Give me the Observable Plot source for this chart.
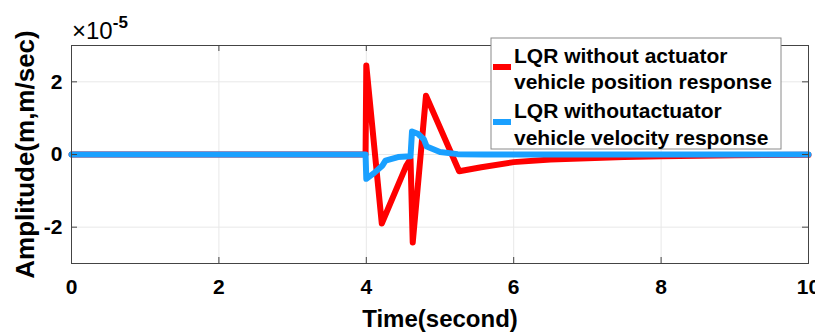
<!DOCTYPE html>
<html>
<head>
<meta charset="utf-8">
<script src="https://cdn.jsdelivr.net/npm/d3@7"></script>
<script src="https://cdn.jsdelivr.net/npm/@observablehq/plot@0.6"></script>
<style>
  body { margin: 0; background: #fff; }
</style>
</head>
<body>
<div id="chart"></div>
<script>
// Vehicle position response (units of 1e-5 m)
const posTime  = [0, 3.99, 4.0, 4.21, 4.54, 4.6, 4.63, 4.81, 5.26, 5.56, 6.0, 6.5, 7.0, 7.5, 8.0, 9.0, 10.0];
const posValue = [0, 0, 2.45, -1.9, -0.32, -0.12, -2.42, 1.62, -0.46, -0.35, -0.21, -0.14, -0.1, -0.07, -0.05, -0.02, -0.01];

// Vehicle velocity response (units of 1e-5 m/sec)
const velTime  = [0, 3.99, 4.0, 4.1, 4.22, 4.26, 4.43, 4.6, 4.62, 4.7, 4.78, 4.82, 5.0, 5.24, 5.6, 10.0];
const velValue = [0, 0, -0.67, -0.52, -0.3, -0.17, -0.07, -0.05, 0.63, 0.57, 0.42, 0.22, 0.07, 0.01, 0, 0];

const xTicks = [0, 2, 4, 6, 8, 10];
const yTicks = [-2, 0, 2];

const seriesNames  = [["LQR without actuator", "vehicle position response"],
                      ["LQR withoutactuator", "vehicle velocity response"]];
const seriesColors = ["#ff0000", "#1aa0ff"];

const xLabel = "Time(second)";
const yLabel = "Amplitude(m,m/sec)";

const xDomain = [0, 10];
const yDomain = [-3, 3];

const posData = posTime.map((t, i) => ({t, v: posValue[i]}));
const velData = velTime.map((t, i) => ({t, v: velValue[i]}));

const W = 815, H = 334;
const mL = 71, mR = 7, mT = 45, mB = 71;
const frameH = H - mT - mB, frameW = W - mL - mR;
const tickLen = 6;
// tick length expressed in each scale's units
const tx = tickLen * (xDomain[1] - xDomain[0]) / frameW;
const ty = tickLen * (yDomain[1] - yDomain[0]) / frameH;
const font = "'Liberation Sans', Arial, Helvetica, sans-serif";

const chart = Plot.plot({
  width: W,
  height: H,
  marginLeft: mL,
  marginRight: mR,
  marginTop: mT,
  marginBottom: mB,
  style: {fontFamily: font, fontWeight: "bold", background: "#fff", color: "#000"},
  x: {domain: xDomain, label: null},
  y: {domain: yDomain, label: null},
  marks: [
    Plot.gridX(xTicks, {stroke: "#e8e8e8", strokeOpacity: 1}),
    Plot.gridY(yTicks, {stroke: "#e8e8e8", strokeOpacity: 1}),
    Plot.line(posData, {x: "t", y: "v", stroke: seriesColors[0], strokeWidth: 6, strokeLinejoin: "round"}),
    Plot.line(velData, {x: "t", y: "v", stroke: seriesColors[1], strokeWidth: 6, strokeLinejoin: "round"}),
    Plot.frame({stroke: "#444"}),
    // inward ticks on all four sides
    Plot.ruleX(xTicks, {x: d => d, y1: yDomain[0], y2: yDomain[0] + ty, stroke: "#444"}),
    Plot.ruleX(xTicks, {x: d => d, y1: yDomain[1] - ty, y2: yDomain[1], stroke: "#444"}),
    Plot.ruleY(yTicks, {y: d => d, x1: xDomain[0], x2: xDomain[0] + tx, stroke: "#444"}),
    Plot.ruleY(yTicks, {y: d => d, x1: xDomain[1] - tx, x2: xDomain[1], stroke: "#444"}),
    Plot.axisX(xTicks, {tickSize: 0, tickPadding: 16, fontSize: 21, fontWeight: "bold", tickFormat: d => String(d), label: null}),
    Plot.axisY(yTicks, {tickSize: 0, tickPadding: 9, fontSize: 21, fontWeight: "bold", tickFormat: d => String(d), label: null}),
    Plot.text([xLabel], {frameAnchor: "bottom", dy: 56, fontSize: 24, fontWeight: "bold", lineAnchor: "middle", textAnchor: "middle"}),
    Plot.text([yLabel], {frameAnchor: "left", dx: -46, rotate: -90, fontSize: 26, fontWeight: "bold", lineAnchor: "middle", textAnchor: "middle"})
  ]
});

const svg = d3.select(chart);

// exponent annotation above the y axis
const expo = svg.append("text")
  .attr("x", mL + 1)
  .attr("y", 39)
  .attr("text-anchor", "start")
  .attr("font-family", font)
  .attr("font-weight", "normal")
  .attr("font-size", 24)
  .attr("fill", "#000");
expo.append("tspan").text("×10");
expo.append("tspan").attr("dy", -11).attr("font-size", 17).attr("font-weight", "bold").text("-5");

// legend
const lg = svg.append("g")
  .attr("font-family", font)
  .attr("font-weight", "bold")
  .attr("font-size", 21)
  .attr("text-anchor", "start");
lg.append("rect")
  .attr("x", 491).attr("y", 38).attr("width", 290).attr("height", 111)
  .attr("fill", "#fff").attr("stroke", "#8a8a8a").attr("stroke-width", 1);
const baselines = [[63, 89], [117.5, 144.5]];
const swatchY = [67, 122];
seriesNames.forEach((lines, i) => {
  lg.append("line")
    .attr("x1", 493).attr("x2", 511)
    .attr("y1", swatchY[i]).attr("y2", swatchY[i])
    .attr("stroke", seriesColors[i]).attr("stroke-width", 6);
  lines.forEach((s, j) => {
    lg.append("text").attr("x", 514).attr("y", baselines[i][j]).attr("fill", "#000").text(s);
  });
});

document.getElementById("chart").appendChild(chart);
</script>
</body>
</html>
